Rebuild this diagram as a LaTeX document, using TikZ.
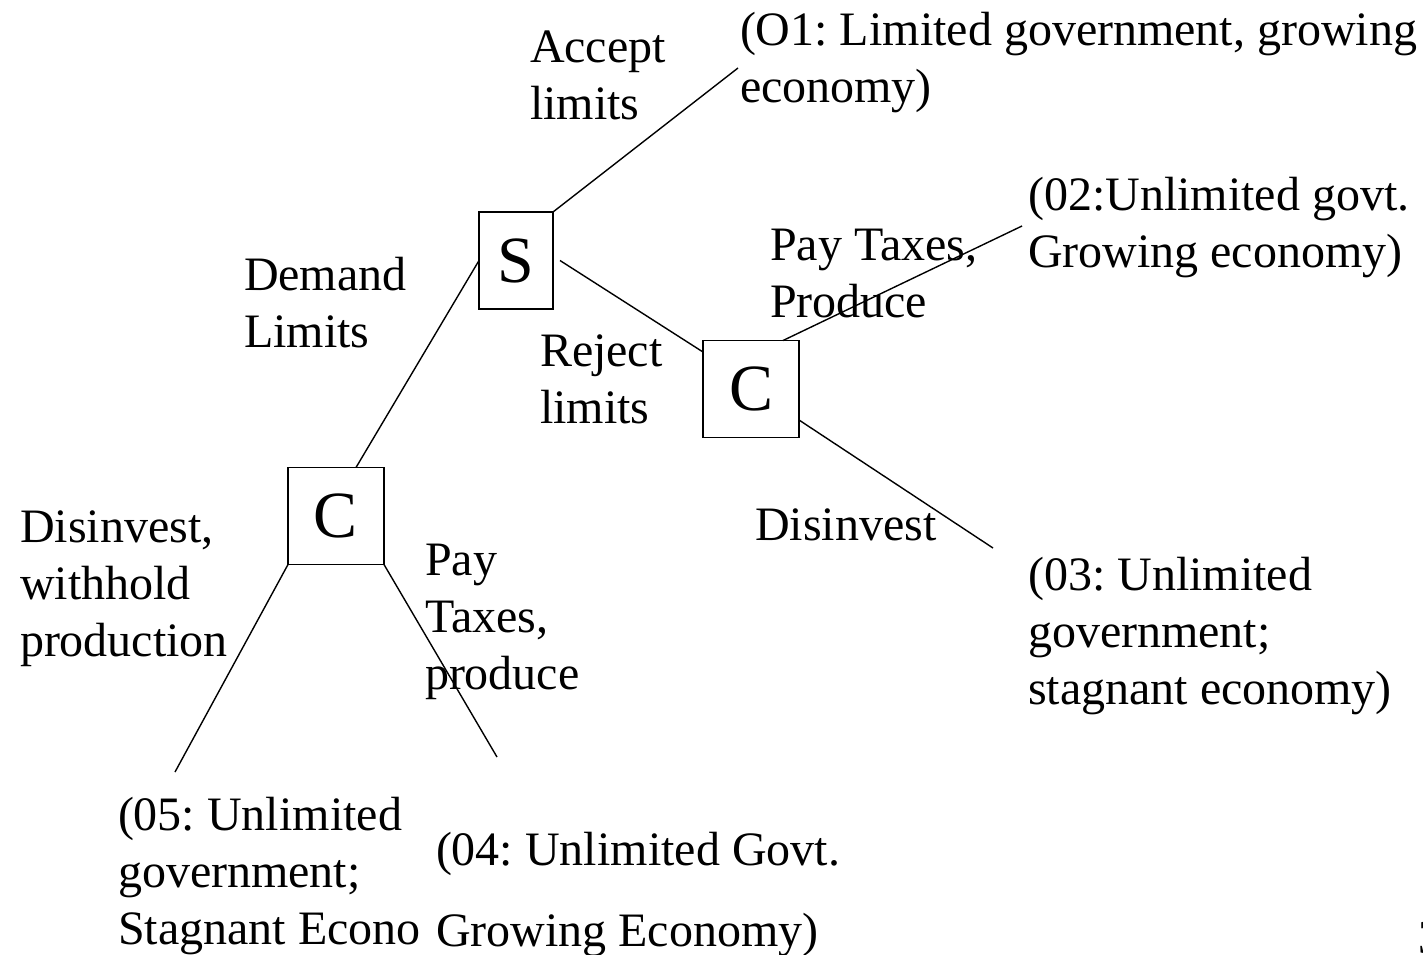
\documentclass[tikz,border=0pt]{standalone}
\usepackage{fontspec}
\setmainfont{Liberation Serif}
\frenchspacing
\newcommand\lab[1]{\begin{tabular}[t]{@{}l@{}}#1\end{tabular}}
\begin{document}
\begin{tikzpicture}[x=1pt,y=-1pt,
  every node/.style={inner sep=0pt, outer sep=0pt},
  txt/.style={anchor=base west, font=\fontsize{48}{57}\selectfont},
  box/.style={draw, line width=1.6pt, minimum height=97pt, font=\fontsize{66}{70}\selectfont},
  edge/.style={line width=1.4pt}]
\useasboundingbox (0,0) rectangle (1423,954);
% decision boxes
\node[box, minimum width=74pt] (S) at (516,260.5) {S};
\node[box, minimum width=96pt] (C1) at (751,389) {C};
\node[box, minimum width=96pt] (C2) at (336,516) {C};
% free ends
\coordinate (o1) at (738,68);
\coordinate (o2) at (1022,226);
\coordinate (o3) at (993,548);
\coordinate (o4) at (497,757);
\coordinate (o5) at (175,772);
% connectors
\draw[edge] (S.north east) -- (o1);
\draw[edge] ([xshift=7pt]S.east) -- ([yshift=37pt]C1.west);
\draw[edge] (S.west) -- ([xshift=20pt]C2.north);
\draw[edge] ([xshift=32pt]C1.north) -- (o2);
\draw[edge] ([yshift=-31pt]C1.east) -- (o3);
\draw[edge] (C2.south west) -- (o5);
\draw[edge] (C2.south east) -- (o4);
% labels
\node[txt] (accept) at (530,62) {\lab{Accept\\limits}};
\node[txt] (O1) at (740,45) {\lab{(O1: Limited government, growing\\economy)}};
\node[txt] (O2) at (1028,210) {\lab{(02:Unlimited govt.\\Growing economy)}};
\node[txt] (pay1) at (770,260) {\lab{Pay Taxes,\\Produce}};
\node[txt] (demand) at (244,290) {\lab{Demand\\Limits}};
\node[txt] (reject) at (540,366) {\lab{Reject\\limits}};
\node[txt] (dis1) at (755,540) {Disinvest};
\node[txt] (O3) at (1028,590) {\lab{(03: Unlimited\\government;\\stagnant economy)}};
\node[txt] (dis2) at (20,542) {\lab{Disinvest,\\withhold\\production}};
\node[txt] (pay2) at (425,575) {\lab{Pay\\Taxes,\\produce}};
\node[txt] (O5) at (118,830) {\lab{(05: Unlimited\\government;\\Stagnant Econo}};
\node[txt] (O4) at (436,865) {\lab{(04: Unlimited Govt.\\[24pt]Growing Economy)}};
\node[txt] (page) at (1418,953) {3};
\end{tikzpicture}
\end{document}
